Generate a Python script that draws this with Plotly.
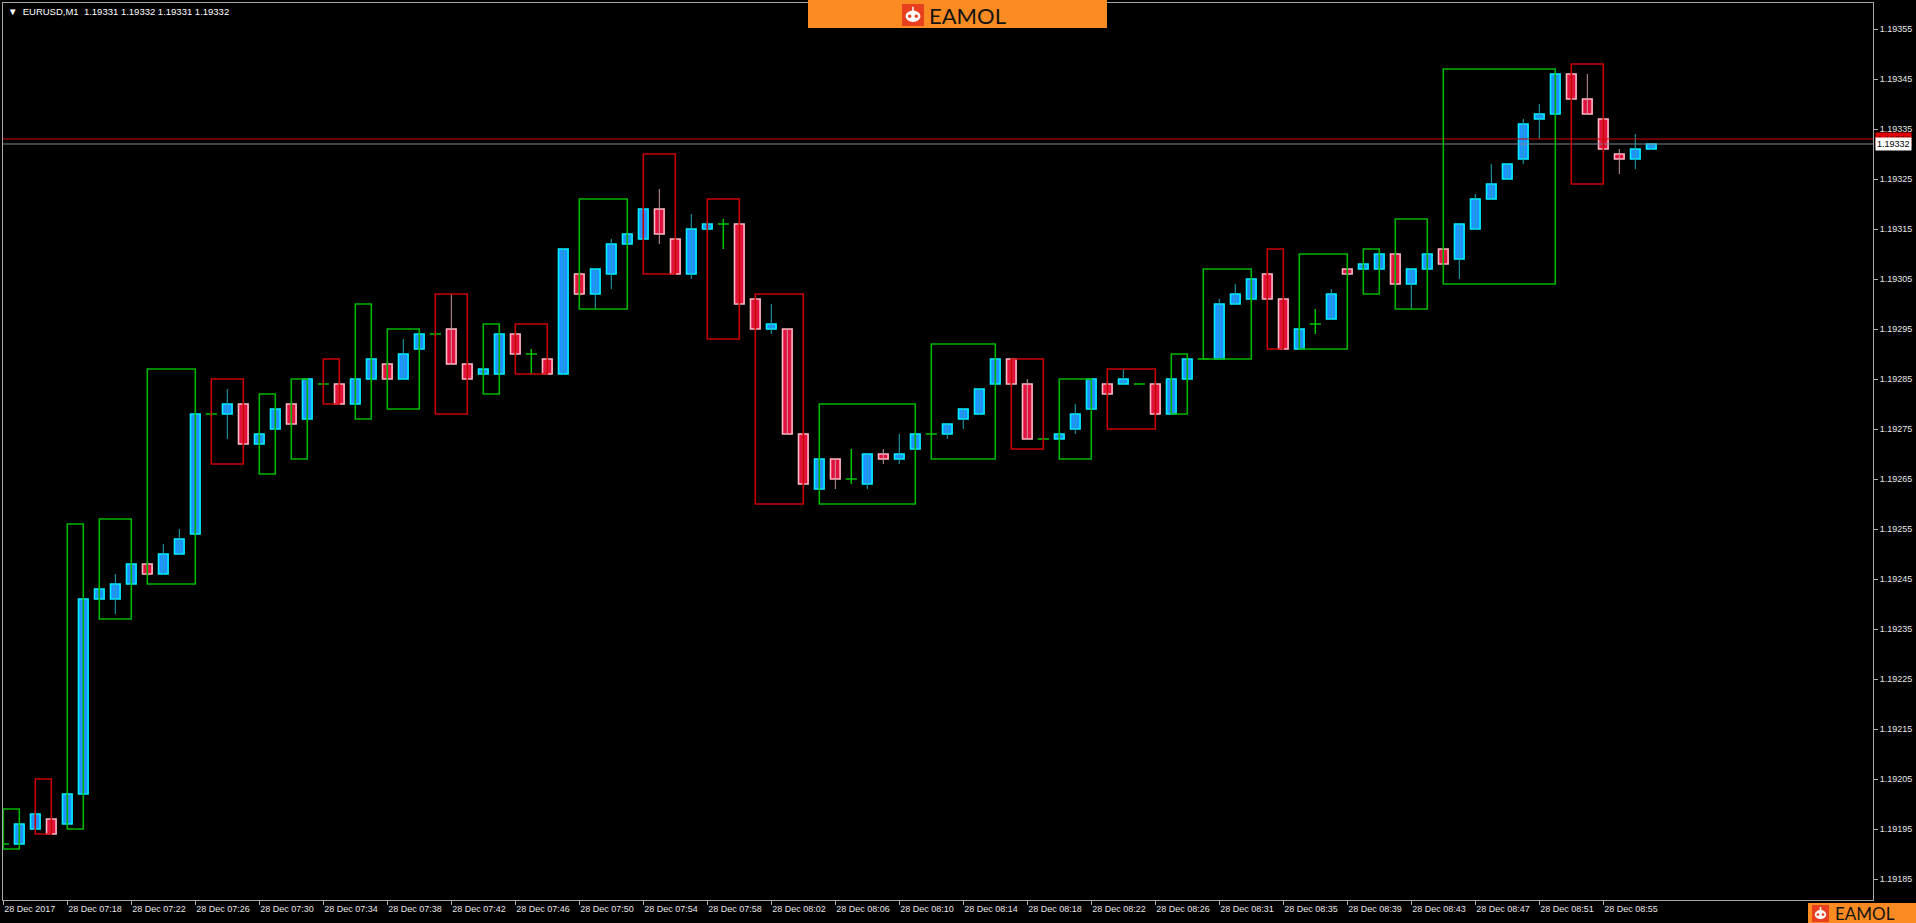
import plotly.graph_objects as go

# ---------------- data (prices in points above 1.19000, 1 point = 0.00001) -------------
BASE = 1.19
PT_SIZE = 0.00001

opens = [192, 192, 195, 197, 196, 202, 241, 241, 244, 248,
         246, 250, 254, 278, 278, 280, 272, 275, 280, 277,
         284, 284, 280, 285, 288, 285, 291, 294, 295, 288,
         286, 286, 294, 290, 289, 286, 306, 302, 306, 312,
         313, 319, 313, 306, 315, 316, 316, 301, 295, 295,
         274, 263, 269, 265, 264, 270, 269, 271, 274, 274,
         277, 278, 284, 289, 284, 273, 273, 275, 279, 284,
         284, 284, 284, 278, 285, 289, 289, 300, 301, 306,
         301, 291, 296, 297, 307, 307, 307, 310, 304, 307,
         311, 309, 315, 321, 325, 329, 337, 338, 346, 341,
         337, 330, 329, 331]
highs = [192, 196, 198, 197, 202, 241, 243, 246, 248, 248,
         252, 255, 278, 278, 283, 280, 274, 279, 280, 285,
         284, 284, 285, 289, 288, 293, 294, 294, 302, 288,
         287, 294, 294, 291, 289, 311, 306, 307, 313, 314,
         319, 323, 313, 318, 316, 317, 316, 301, 300, 295,
         274, 269, 269, 271, 270, 271, 274, 274, 274, 276,
         279, 283, 289, 289, 285, 273, 274, 280, 285, 284,
         287, 284, 284, 285, 289, 289, 301, 304, 305, 306,
         301, 295, 299, 303, 307, 308, 310, 310, 307, 310,
         311, 316, 322, 328, 328, 337, 340, 346, 346, 346,
         337, 331, 334, 332]
lows = [192, 192, 195, 194, 196, 202, 241, 238, 244, 246,
        246, 250, 254, 278, 273, 272, 272, 275, 276, 277,
        284, 280, 280, 285, 285, 285, 291, 294, 288, 285,
        286, 286, 290, 286, 286, 286, 302, 299, 303, 312,
        313, 312, 306, 305, 315, 311, 300, 295, 294, 274,
        264, 263, 263, 264, 263, 268, 268, 271, 274, 273,
        275, 278, 284, 284, 273, 273, 273, 274, 279, 282,
        284, 284, 278, 278, 285, 289, 289, 300, 301, 301,
        291, 291, 294, 297, 306, 307, 307, 304, 299, 307,
        308, 305, 315, 321, 325, 328, 333, 338, 341, 338,
        331, 326, 327, 331]
closes = [192, 196, 198, 194, 202, 241, 243, 244, 248, 246,
          250, 253, 278, 278, 280, 272, 274, 279, 276, 285,
          284, 280, 285, 289, 285, 290, 294, 294, 288, 285,
          287, 294, 290, 290, 286, 311, 302, 307, 312, 314,
          319, 314, 306, 315, 316, 316, 300, 295, 296, 274,
          264, 269, 265, 265, 270, 269, 270, 274, 274, 276,
          279, 283, 289, 284, 273, 273, 274, 278, 285, 282,
          285, 284, 278, 285, 289, 289, 300, 302, 305, 301,
          291, 295, 296, 302, 306, 308, 310, 304, 307, 310,
          308, 316, 321, 324, 328, 336, 338, 346, 341, 338,
          331, 329, 331, 332]

# range boxes: first bar, last bar, high, low, bullish?
box_start = [0, 2, 4, 6, 9, 13, 16, 18, 20, 22, 24, 27, 30, 32, 36, 40, 44, 47,
             51, 58, 63, 66, 69, 73, 75, 79, 81, 85, 87, 90, 98]
box_end = [1, 3, 5, 8, 12, 15, 17, 19, 21, 23, 26, 29, 31, 34, 39, 42, 46, 50,
           57, 62, 65, 68, 72, 74, 78, 80, 84, 86, 89, 97, 100]
box_high = [199, 205, 256, 257, 287, 285, 282, 285, 289, 300, 295, 302, 296, 296,
            321, 330, 321, 302, 280, 292, 289, 285, 287, 290, 307, 311, 310, 311,
            317, 347, 348]
box_low = [191, 194, 195, 237, 244, 268, 266, 269, 280, 277, 279, 278, 282, 286,
           299, 306, 293, 260, 260, 269, 271, 269, 275, 278, 289, 291, 291, 302,
           299, 304, 324]
box_up = [True, False, True, True, True, False, True, True, False, True, True,
          False, True, False, True, False, False, False, True, True, False, True,
          False, True, True, False, True, True, True, True, False]

tick_bars = list(range(0, 104, 4))
tick_labels = ["28 Dec 2017", "28 Dec 07:18", "28 Dec 07:22", "28 Dec 07:26",
               "28 Dec 07:30", "28 Dec 07:34", "28 Dec 07:38", "28 Dec 07:42",
               "28 Dec 07:46", "28 Dec 07:50", "28 Dec 07:54", "28 Dec 07:58",
               "28 Dec 08:02", "28 Dec 08:06", "28 Dec 08:10", "28 Dec 08:14",
               "28 Dec 08:18", "28 Dec 08:22", "28 Dec 08:26", "28 Dec 08:31",
               "28 Dec 08:35", "28 Dec 08:39", "28 Dec 08:43", "28 Dec 08:47",
               "28 Dec 08:51", "28 Dec 08:55"]
price_ticks = [1.19185 + 0.0001 * k for k in range(18)]
bid_price = 1.19332
ask_price = 1.19333
header_text = "EURUSD,M1  1.19331 1.19332 1.19331 1.19332"

# ---------------- conversion ----------------
def pr(v):
    return BASE + v * PT_SIZE

O = [pr(v) for v in opens]
Hh = [pr(v) for v in highs]
L = [pr(v) for v in lows]
C = [pr(v) for v in closes]
n = len(O)

# ---------------- layout geometry (pixels) ----------------
W, HGT = 1916, 923
PL, PR, PTOP, PB = 3, 1873, 3, 900
BAR_PX = 16.0
X0_PX = 3.3   # centre of bar 0


def fx(px):
    return (px - PL) / (PR - PL)


def fy(py):
    return 1 - (py - PTOP) / (PB - PTOP)

x_lo = (PL - X0_PX) / BAR_PX
x_hi = (PR - X0_PX) / BAR_PX
# y calibration: 1.19355 at pixel 29, 5 px per point
y_hi = 1.19355 + (29 - PTOP) / 5 * PT_SIZE
y_lo = 1.19355 - (PB - 29) / 5 * PT_SIZE

BULL_FILL, BULL_LINE, BULL_WICK = "#1E90FF", "#00F0FF", "#22A8B4"
BEAR_FILL, BEAR_LINE, BEAR_WICK = "#E2103C", "#FFB8C6", "#C89A9E"
DOJI = "#00C400"
BOX_G, BOX_R = "#00B400", "#C80000"
TXT = "#E6E6E6"
FONT = "Liberation Sans, Arial, sans-serif"

fig = go.Figure()

# wicks
for kind, col in (("up", BULL_WICK), ("dn", BEAR_WICK)):
    xs, ys = [], []
    for i in range(n):
        if (kind == "up" and C[i] > O[i]) or (kind == "dn" and C[i] < O[i]):
            xs += [i, i, None]
            ys += [L[i], Hh[i], None]
    fig.add_trace(go.Scatter(x=xs, y=ys, mode="lines", line=dict(color=col, width=1),
                             hoverinfo="skip", showlegend=False))

# bodies
for kind, fill, line in (("up", BULL_FILL, BULL_LINE), ("dn", BEAR_FILL, BEAR_LINE)):
    xs, base, hts = [], [], []
    for i in range(n):
        if (kind == "up" and C[i] > O[i]) or (kind == "dn" and C[i] < O[i]):
            xs.append(i)
            base.append(min(O[i], C[i]))
            hts.append(abs(C[i] - O[i]))
    fig.add_trace(go.Bar(x=xs, y=hts, base=base, width=0.6,
                         marker=dict(color=fill, line=dict(color=line, width=1.6)),
                         hoverinfo="skip", showlegend=False))

# dojis (green crosses)
xs, ys = [], []
for i in range(n):
    if C[i] == O[i]:
        xs += [i - 0.35, i + 0.35, None]
        ys += [O[i], O[i], None]
        if Hh[i] > L[i]:
            xs += [i, i, None]
            ys += [L[i], Hh[i], None]
fig.add_trace(go.Scatter(x=xs, y=ys, mode="lines", line=dict(color=DOJI, width=1.5),
                         hoverinfo="skip", showlegend=False))

shapes = []
# bid / ask lines
shapes.append(dict(type="line", xref="paper", yref="y", x0=0, x1=1, y0=ask_price, y1=ask_price,
                   line=dict(color="#D00000", width=1.2), layer="above"))
shapes.append(dict(type="line", xref="paper", yref="y", x0=0, x1=1, y0=bid_price, y1=bid_price,
                   line=dict(color="#7A8A96", width=1.2), layer="above"))
# boxes
for s, e, hi, lo, up in zip(box_start, box_end, box_high, box_low, box_up):
    shapes.append(dict(type="rect", xref="x", yref="y", x0=s, x1=e, y0=pr(lo), y1=pr(hi),
                       line=dict(color=BOX_G if up else BOX_R, width=1.6),
                       fillcolor="rgba(0,0,0,0)", layer="above"))

# top banner
ORANGE = "#F98B22"
shapes.append(dict(type="rect", xref="paper", yref="paper", x0=fx(808), x1=fx(1107),
                   y0=fy(28), y1=fy(0), fillcolor=ORANGE, line=dict(width=0), layer="above"))
# bottom-right banner
shapes.append(dict(type="rect", xref="paper", yref="paper", x0=fx(1808), x1=fx(1916),
                   y0=fy(923), y1=fy(903), fillcolor=ORANGE, line=dict(width=0), layer="above"))


def robot(x0, y0, s):
    out = []
    out.append(dict(type="rect", xref="paper", yref="paper", x0=fx(x0), x1=fx(x0 + s),
                    y0=fy(y0 + s), y1=fy(y0), fillcolor="#E8401E", line=dict(width=0), layer="above"))
    out.append(dict(type="circle", xref="paper", yref="paper", x0=fx(x0 + s * 0.16), x1=fx(x0 + s * 0.84),
                    y0=fy(y0 + s * 0.82), y1=fy(y0 + s * 0.3), fillcolor="white", line=dict(width=0),
                    layer="above"))
    out.append(dict(type="line", xref="paper", yref="paper", x0=fx(x0 + s * 0.5), x1=fx(x0 + s * 0.5),
                    y0=fy(y0 + s * 0.32), y1=fy(y0 + s * 0.12), line=dict(color="white", width=1.5),
                    layer="above"))
    for ex in (0.35, 0.65):
        out.append(dict(type="circle", xref="paper", yref="paper", x0=fx(x0 + s * (ex - 0.08)),
                        x1=fx(x0 + s * (ex + 0.08)), y0=fy(y0 + s * 0.64), y1=fy(y0 + s * 0.48),
                        fillcolor="#E8401E", line=dict(width=0), layer="above"))
    return out

shapes += robot(902, 4, 22)
shapes += robot(1812, 905, 17)

annotations = []
annotations.append(dict(xref="paper", yref="paper", x=fx(6), y=fy(11), xanchor="left", yanchor="middle",
                        text="\u25BC  " + header_text, showarrow=False,
                        font=dict(family=FONT, size=9.5, color="white")))
annotations.append(dict(xref="paper", yref="paper", x=fx(927), y=fy(15.5), xanchor="left", yanchor="middle",
                        text="EAMOL", showarrow=False,
                        font=dict(family="Lato, Inter, sans-serif", size=22, color="#141414")))
annotations.append(dict(xref="paper", yref="paper", x=fx(1833), y=fy(913.5), xanchor="left", yanchor="middle",
                        text="EAMOL", showarrow=False,
                        font=dict(family="Lato, Inter, sans-serif", size=17, color="#141414")))
# price labels on the axis
annotations.append(dict(xref="paper", yref="y", x=1, y=ask_price, xanchor="left", yanchor="middle", xshift=2,
                        text="%.5f" % ask_price, showarrow=False, bgcolor="#E00000", borderpad=1,
                        font=dict(family=FONT, size=9, color="#700000")))
annotations.append(dict(xref="paper", yref="y", x=1, y=bid_price, xanchor="left", yanchor="middle", xshift=2,
                        text="%.5f" % bid_price, showarrow=False, bgcolor="white", borderpad=1,
                        font=dict(family=FONT, size=9, color="black")))

fig.update_layout(
    width=W, height=HGT,
    margin=dict(l=PL, r=W - PR, t=PTOP, b=HGT - PB, autoexpand=False),
    paper_bgcolor="black", plot_bgcolor="black",
    barmode="overlay", showlegend=False,
    shapes=shapes, annotations=annotations,
    xaxis=dict(range=[x_lo, x_hi], showgrid=False, zeroline=False,
               tickmode="array", tickvals=tick_bars, ticktext=tick_labels,
               ticks="outside", ticklen=4, tickcolor="#B0B0B0",
               ticklabelposition="outside right",
               tickfont=dict(family=FONT, size=9, color=TXT),
               showline=True, linecolor="#A8A8A8", linewidth=1, mirror=True, fixedrange=True),
    yaxis=dict(range=[y_lo, y_hi], side="right", showgrid=False, zeroline=False,
               tickmode="array", tickvals=price_ticks, ticktext=["%.5f" % v for v in price_ticks],
               ticks="outside", ticklen=4, tickcolor="#B0B0B0",
               tickfont=dict(family=FONT, size=9, color=TXT),
               showline=True, linecolor="#A8A8A8", linewidth=1, mirror=True, fixedrange=True),
)

fig.write_html("out.html", config={"displayModeBar": False})

# remove the default page margin so the figure sits at the window's top-left corner
with open("out.html", "r", encoding="utf-8") as f:
    html = f.read()
html = html.replace("<head>", "<head><style>html,body{margin:0;padding:0;overflow:hidden;background:#000}</style>", 1)
with open("out.html", "w", encoding="utf-8") as f:
    f.write(html)
